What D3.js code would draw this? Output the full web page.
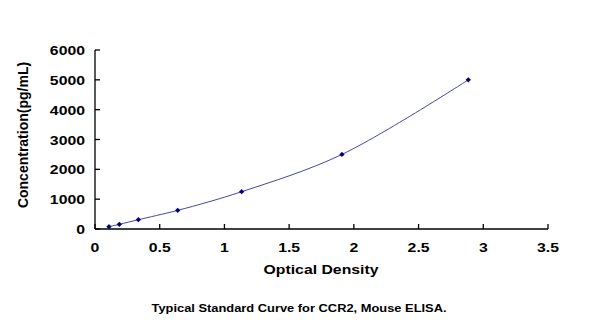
<!DOCTYPE html>
<html><head><meta charset="utf-8">
<script src="https://cdn.jsdelivr.net/npm/d3@7"></script>
<style>
html,body{margin:0;padding:0;background:#fff;}
svg{display:block;}
text{font-family:"Liberation Sans",Arial,sans-serif;font-weight:bold;fill:#000;}
</style></head>
<body>
<script>
const opticalDensity = [0.108, 0.188, 0.335, 0.639, 1.133, 1.908, 2.884];
const concentration = [78, 156, 312, 625, 1250, 2500, 5000];
const xTicks = [0, 0.5, 1, 1.5, 2, 2.5, 3, 3.5];
const yTicks = [0, 1000, 2000, 3000, 4000, 5000, 6000];
const xTitle = "Optical Density";
const yTitle = "Concentration(pg/mL)";
const caption = "Typical Standard Curve for CCR2, Mouse ELISA.";

const W = 600, H = 322;
const svg = d3.select("body").append("svg").attr("width", W).attr("height", H);
const x = d3.scaleLinear().domain([0, 3.5]).range([95, 548]);
const y = d3.scaleLinear().domain([0, 6000]).range([229, 50]);
const sx = 1.17;

function stext(str, px, py, size, anchor) {
  return svg.append("text")
    .attr("transform", `translate(${px},${py}) scale(${sx},1)`)
    .attr("text-anchor", anchor)
    .style("font-size", size + "px")
    .text(str);
}

// axes lines
svg.append("line").attr("x1", x(0)).attr("x2", x(3.5)).attr("y1", y(0)).attr("y2", y(0))
  .attr("stroke", "#000").attr("stroke-width", 1.3);
svg.append("line").attr("x1", x(0)).attr("x2", x(0)).attr("y1", y(0)).attr("y2", y(6000))
  .attr("stroke", "#000").attr("stroke-width", 1.3);
// ticks inside
xTicks.forEach(t => {
  svg.append("line").attr("x1", x(t)).attr("x2", x(t)).attr("y1", y(0)).attr("y2", y(0) - 5)
    .attr("stroke", "#000").attr("stroke-width", 1.3);
  stext(d3.format("")(t), x(t), 252, 13.5, "middle");
});
yTicks.forEach(t => {
  svg.append("line").attr("x1", x(0)).attr("x2", x(0) + 5).attr("y1", y(t)).attr("y2", y(t))
    .attr("stroke", "#000").attr("stroke-width", 1.3);
  stext(String(t), 85, y(t) + 5, 13.5, "end");
});

// titles
stext(xTitle, 321, 274, 13.5, "middle");
svg.append("text")
  .attr("transform", `translate(28,135) rotate(-90)`)
  .attr("text-anchor", "middle")
  .style("font-size", "14px")
  .text(yTitle);
stext(caption, 299, 312, 11, "middle");

// curve
const pts = opticalDensity.map((d, i) => [d, concentration[i]]);
const line = d3.line().x(d => x(d[0])).y(d => y(d[1])).curve(d3.curveCatmullRom.alpha(0.5));
svg.append("path").attr("d", line(pts)).attr("fill", "none")
  .attr("stroke", "#4646a8").attr("stroke-width", 1);
svg.selectAll(".pt").data(pts).enter().append("path")
  .attr("transform", d => `translate(${x(d[0])},${y(d[1])}) rotate(45)`)
  .attr("d", d3.symbol().type(d3.symbolSquare).size(14))
  .attr("fill", "#000080");
</script>
</body></html>
